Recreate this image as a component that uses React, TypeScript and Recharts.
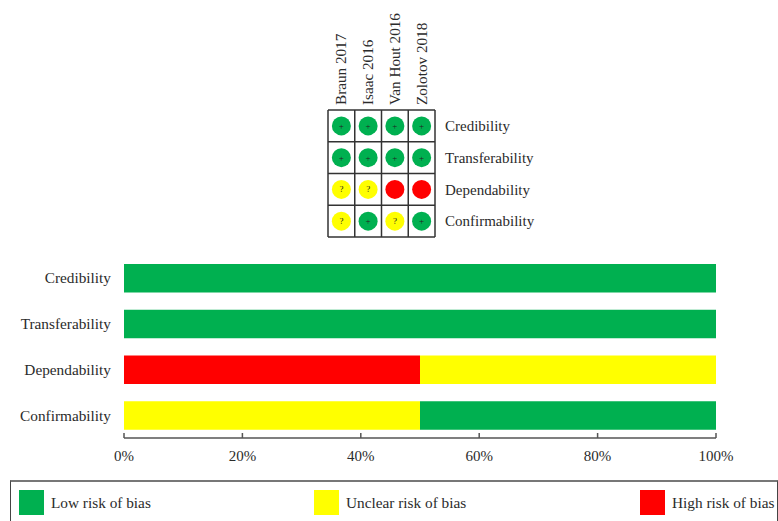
import { BarChart, Bar, ScatterChart, Scatter, XAxis, YAxis, CartesianGrid, Legend } from 'recharts';

const FONT = '"Liberation Serif", "Times New Roman", serif';
const TEXT = '#2b2b2b';
const GREEN = '#00B050';
const YELLOW = '#FFFF00';
const RED = '#FF0000';

const domains = ['Credibility', 'Transferability', 'Dependability', 'Confirmability'];
const studies = ['Braun 2017', 'Isaac 2016', 'Van Hout 2016', 'Zolotov 2018'];

// one judgement per study, same order as domains
const braun = ['+', '+', '?', '?'];
const isaac = ['+', '+', '?', '+'];
const vanHout = ['+', '+', '-', '?'];
const zolotov = ['+', '+', '-', '+'];

const lowRisk = [100, 100, 0, 50];
const unclearRisk = [0, 0, 50, 50];
const highRisk = [0, 0, 50, 0];
const pctTicks = [0, 20, 40, 60, 80, 100];

const judgementColor: Record<string, string> = { '+': GREEN, '?': YELLOW, '-': RED };
const legendLeft: Record<string, number> = { low: 8, unclear: 303, high: 629 };

const barData = domains.map((name, i) => ({
	name,
	low: lowRisk[i],
	unclear: unclearRisk[i],
	high: highRisk[i],
}));

const cells = [braun, isaac, vanHout, zolotov].flatMap((column, x) =>
	column.map((value, y) => ({ x: x + 0.5, y: y + 0.5, value }))
);

function JudgementDot({ cx, cy, payload }: any) {
	return (
		<g>
			<circle cx={cx} cy={cy} r={9.5} fill={judgementColor[payload.value]} />
			<text x={cx} y={cy + 3} textAnchor="middle" fontSize={9} fontFamily={FONT} fill="#222">
				{payload.value === '-' ? '' : payload.value}
			</text>
		</g>
	);
}

function StudyTick({ x, y, payload }: any) {
	return (
		<text
			transform={`translate(${x + 5},${y + 3}) rotate(-90)`}
			fontSize={15.2}
			fontFamily={FONT}
			fill={TEXT}
		>
			{studies[Math.floor(payload.value)]}
		</text>
	);
}

function RiskLegend({ payload }: any) {
	return (
		<div
			style={{
				position: 'relative',
				height: 41,
				boxSizing: 'border-box',
				borderTop: '2px solid #777',
				borderLeft: '1px solid #444',
				borderRight: '1px solid #444',
				fontFamily: FONT,
				fontSize: 15.3,
				color: TEXT,
			}}
		>
			{payload.map((item: any) => (
				<div key={item.dataKey} style={{ position: 'absolute', left: legendLeft[item.dataKey], top: 8, display: 'flex', alignItems: 'center', whiteSpace: 'nowrap' }}>
					<span style={{ width: 25, height: 25, background: item.color, marginRight: 7, display: 'inline-block' }} />
					{item.value}
				</div>
			))}
		</div>
	);
}

export default function App() {
	return (
		<div style={{ position: 'absolute', left: 0, top: 0, width: 778, height: 521, background: '#fff', overflow: 'hidden' }}>
			<div style={{ position: 'absolute', left: 0, top: 0 }}>
				<ScatterChart width={778} height={240} margin={{ top: 0, right: 0, bottom: 3, left: 328 }}>
					<CartesianGrid
						stroke="#333"
						strokeWidth={1.5}
						verticalValues={[0, 1, 2, 3, 4]}
						horizontalValues={[0, 1, 2, 3, 4]}
					/>
					<XAxis
						type="number"
						dataKey="x"
						orientation="top"
						height={110}
						domain={[0, 4]}
						ticks={[0.5, 1.5, 2.5, 3.5]}
						axisLine={false}
						tickLine={false}
						interval={0}
						tick={<StudyTick />}
					/>
					<YAxis
						type="number"
						dataKey="y"
						orientation="right"
						width={343}
						domain={[0, 4]}
						reversed
						ticks={[0.5, 1.5, 2.5, 3.5]}
						axisLine={false}
						tickLine={false}
						tickMargin={4}
						interval={0}
						tickFormatter={(v: number) => domains[Math.floor(v)]}
						tick={{ fontSize: 15, fontFamily: FONT, fill: TEXT }}
					/>
					<Scatter data={cells} isAnimationActive={false} shape={<JudgementDot />} />
				</ScatterChart>
			</div>
			<div style={{ position: 'absolute', left: 0, top: 0 }}>
				<BarChart
					width={778}
					height={521}
					layout="vertical"
					data={barData}
					barSize={28.5}
					margin={{ top: 255, right: 62, bottom: 0, left: 0 }}
					style={{ pointerEvents: 'none' }}
				>
					<XAxis
						type="number"
						domain={[0, 100]}
						ticks={pctTicks}
						height={42}
						tickFormatter={(v: number) => `${v}%`}
						stroke="#555"
						strokeWidth={1.5}
						tickSize={-5}
						tickMargin={17}
						tick={{ fontSize: 15, fontFamily: FONT, fill: TEXT, stroke: 'none' }}
					/>
					<YAxis
						type="category"
						dataKey="name"
						width={124}
						axisLine={false}
						tickLine={false}
						tickMargin={7}
						interval={0}
						tick={{ fontSize: 15.3, fontFamily: FONT, fill: TEXT }}
					/>
					<Legend
						verticalAlign="bottom"
						height={41}
						width={768}
						wrapperStyle={{ left: 10, bottom: 0 }}
						content={<RiskLegend />}
					/>
					<Bar dataKey="high" name="High risk of bias" stackId="risk" fill={RED} isAnimationActive={false} />
					<Bar dataKey="unclear" name="Unclear risk of bias" stackId="risk" fill={YELLOW} isAnimationActive={false} />
					<Bar dataKey="low" name="Low risk of bias" stackId="risk" fill={GREEN} isAnimationActive={false} />
				</BarChart>
			</div>
		</div>
	);
}
